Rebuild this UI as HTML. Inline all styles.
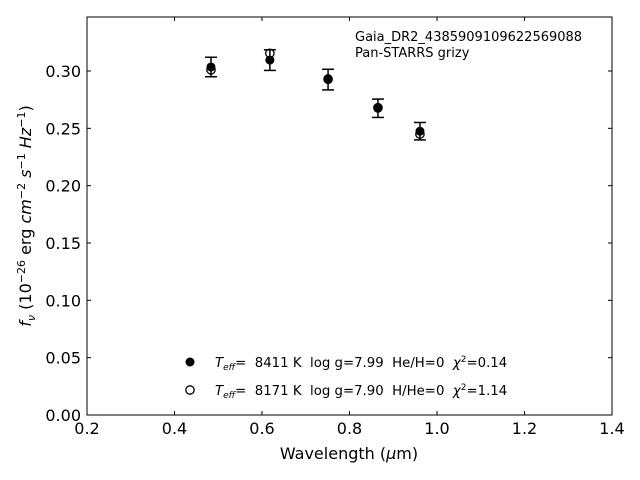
<!DOCTYPE html>
<html><head><meta charset="utf-8"><style>
body{margin:0;background:#fff}
svg{display:block;font-family:"DejaVu Sans","Liberation Sans",sans-serif}
svg text{white-space:pre}
</style></head><body>
<svg id="chart" width="640" height="480">
<rect x="87" y="17" width="525" height="398" fill="none" stroke="#000" stroke-width="1"/>
<g id="ticks"></g>
<g id="marks"></g>
<text x="355" y="41" font-size="13">Gaia_DR2_4385909109622569088</text>
<text x="355" y="57" font-size="13">Pan-STARRS grizy</text>
<text x="349" y="459" font-size="16" text-anchor="middle">Wavelength (<tspan font-style="italic">μ</tspan>m)</text>
<text transform="translate(31,216) rotate(-90)" font-size="16" text-anchor="middle"><tspan font-style="italic">f<tspan font-size="11" dy="4">ν</tspan></tspan><tspan dy="-4"> (10</tspan><tspan font-size="11" dy="-6">−26</tspan><tspan dy="6"> erg </tspan><tspan font-style="italic">cm</tspan><tspan font-size="11" dy="-6">−2</tspan><tspan dy="6" font-style="italic"> s</tspan><tspan font-size="11" dy="-6">−1</tspan><tspan dy="6" font-style="italic"> Hz</tspan><tspan font-size="11" dy="-6">−1</tspan><tspan dy="6">)</tspan></text>
<g>
<circle cx="190" cy="362" r="4.5" fill="#000"/>
<text x="215" y="367" font-size="13.3"><tspan font-style="italic">T<tspan font-size="9" dy="3">eff</tspan></tspan><tspan dy="-3">=  8411 K  log g=7.99  He/H=0  </tspan><tspan font-style="italic">χ</tspan><tspan font-size="9" dy="-5">2</tspan><tspan dy="5">=0.14</tspan></text>
<circle cx="190" cy="390" r="4.2" fill="#fff" stroke="#000" stroke-width="1.3"/>
<text x="215" y="395" font-size="13.3"><tspan font-style="italic">T<tspan font-size="9" dy="3">eff</tspan></tspan><tspan dy="-3">=  8171 K  log g=7.90  H/He=0  </tspan><tspan font-style="italic">χ</tspan><tspan font-size="9" dy="-5">2</tspan><tspan dy="5">=1.14</tspan></text>
</g>
</svg>
<script>
const wavelengths=[0.4834,0.618,0.751,0.865,0.961];
const observedFlux=[0.3035,0.3095,0.2925,0.2675,0.2475];
const observedErr=[0.0085,0.009,0.009,0.008,0.0076];
const modelFlux=[0.301,0.3154,0.293,0.268,0.245];
const xTicks=["0.2","0.4","0.6","0.8","1.0","1.2","1.4"];
const yTicks=["0.00","0.05","0.10","0.15","0.20","0.25","0.30"];
const NS="http://www.w3.org/2000/svg";
const X=v=>87+(v-0.2)/1.2*525;
const Y=v=>415-v/0.3*344;
function mk(tag,attrs,parent){const e=document.createElementNS(NS,tag);for(const k in attrs)e.setAttribute(k,attrs[k]);parent.appendChild(e);return e;}
const tg=document.getElementById('ticks'),mg=document.getElementById('marks');
xTicks.forEach(t=>{const x=X(parseFloat(t));
 const l=mk('line',{x1:x,x2:x,y1:415,y2:411,stroke:'#000'},tg);
 
 
 const l2=mk('line',{x1:x,x2:x,y1:17,y2:21,stroke:'#000'},tg);
 
 
 const tx=mk('text',{x:x,y:434,'font-size':16,'text-anchor':'middle'},tg);tx.textContent=t;
 
 });
yTicks.forEach(t=>{const y=Y(parseFloat(t));
 const l=mk('line',{x1:87,x2:91,y1:y,y2:y,stroke:'#000'},tg);
 
 
 const l2=mk('line',{x1:608,x2:612,y1:y,y2:y,stroke:'#000'},tg);
 
 
 const tx=mk('text',{x:81,y:y+6,'font-size':16,'text-anchor':'end'},tg);tx.textContent=t;
 
 });
wavelengths.forEach((w,i)=>{const x=X(w);
 const m=mk('circle',{cx:x,cy:Y(modelFlux[i]),r:4.2,fill:'#fff',stroke:'#000','stroke-width':1.3},mg);
 
 
 const top=Y(observedFlux[i]+observedErr[i]),bot=Y(observedFlux[i]-observedErr[i]);
 const g=mk('g',{stroke:'#000','stroke-width':1.5},mg);
 
 
 mk('line',{x1:x,x2:x,y1:top,y2:bot},g);
 mk('line',{x1:x-6,x2:x+6,y1:top,y2:top},g);
 mk('line',{x1:x-6,x2:x+6,y1:bot,y2:bot},g);
 const o=mk('circle',{cx:x,cy:Y(observedFlux[i]),r:4.5,fill:'#000'},mg);
 
 
});
</script>
</body></html>
